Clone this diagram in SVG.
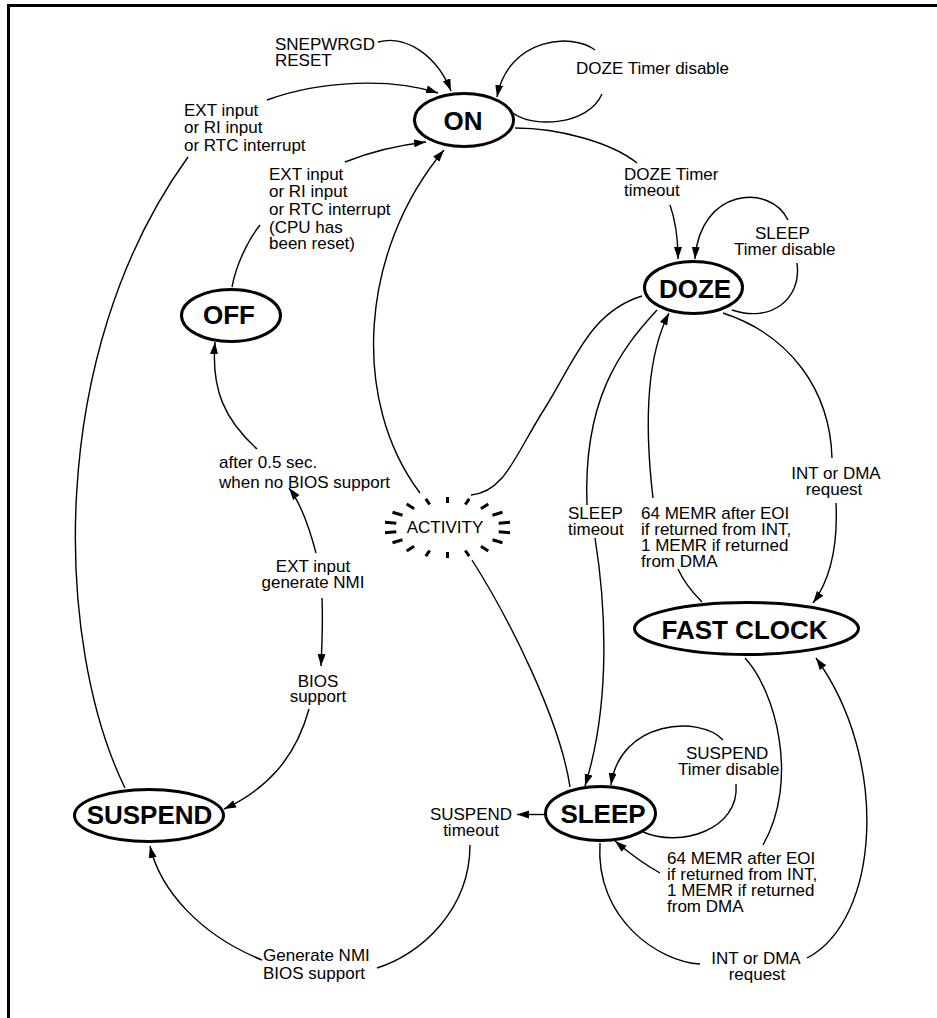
<svg xmlns="http://www.w3.org/2000/svg" width="937" height="1018" viewBox="0 0 937 1018">
<defs>
<marker id="arr" markerUnits="userSpaceOnUse" markerWidth="14" markerHeight="10" refX="12" refY="4" orient="auto">
<path d="M0,0 L12,4 L0,8 Z" fill="#000"/>
</marker>
<style>
.node ellipse{fill:#fff;stroke:#000;stroke-width:3}
.node text{font-family:"Liberation Sans",Arial,sans-serif;font-weight:bold;font-size:26px;text-anchor:middle;fill:#000}
.lbl{font-family:"Liberation Sans",Arial,sans-serif;font-size:17px;fill:#000}
.mid{text-anchor:middle}
.c{fill:none;stroke:#000;stroke-width:1.4}
.a{marker-end:url(#arr)}
.burst{fill:none;stroke:#000;stroke-width:3}
</style>
</defs>
<rect width="937" height="1018" fill="#fff"/>
<path d="M8.5,1018 V5.5 H937" fill="none" stroke="#000" stroke-width="3"/>

<g id="connectors">
<!-- SNEPWRGD RESET -> ON -->
<path class="c a" d="M378,42 C408,34 438,58 451,91"/>
<!-- ON self loop -->
<path class="c" d="M513,113 C532,128 588,126 602,94"/>
<path class="c a" d="M595,50 C572,32 508,38 497,97"/>
<!-- ON -> DOZE -->
<path class="c" d="M515,128 C560,128 612,143 637,163"/>
<path class="c a" d="M670,205 C676,222 678,240 678,259"/>
<!-- DOZE self loop -->
<path class="c" d="M732,310 C770,323 802,300 797,263"/>
<path class="c a" d="M788,220 C770,183 700,188 695,259"/>
<!-- SUSPEND -> ON (EXT/RI/RTC) -->
<path class="c" d="M125,788 C55,645 45,355 188,157"/>
<path class="c a" d="M267,100 C322,80 392,78 438,93"/>
<!-- OFF -> ON -->
<path class="c" d="M232,287 C236,265 248,240 260,225"/>
<path class="c a" d="M345,162 C370,152 400,145 426,142"/>
<!-- ACTIVITY -> ON -->
<path class="c a" d="M420,493 C350,400 360,250 444,150"/>
<!-- DOZE -> ACTIVITY -->
<path class="c" d="M471,495 C505,492 515,455 545,408 C575,360 590,312 642,296"/>
<!-- SLEEP -> ACTIVITY -->
<path class="c" d="M472,560 C510,620 560,720 570,787"/>
<!-- DOZE -> SLEEP -->
<path class="c" d="M657,310 C620,350 583,400 587,505"/>
<path class="c a" d="M595,538 C605,600 612,700 585,786"/>
<!-- FAST CLOCK -> DOZE -->
<path class="c" d="M702,602 C692,592 683,580 678,569"/>
<path class="c a" d="M653,498 C645,430 645,360 669,313"/>
<!-- DOZE -> FAST CLOCK -->
<path class="c" d="M723,313 C790,335 830,390 832,458"/>
<path class="c a" d="M836,503 C838,545 830,580 813,603"/>
<!-- FAST CLOCK -> SLEEP -->
<path class="c" d="M745,658 C775,690 800,780 763,845"/>
<path class="c a" d="M660,873 C640,862 628,852 615,841"/>
<!-- SLEEP -> FAST CLOCK -->
<path class="c" d="M600,843 C595,920 660,962 700,964"/>
<path class="c a" d="M807,958 C880,920 890,760 816,658"/>
<!-- SLEEP self loop -->
<path class="c" d="M643,832 C680,848 740,830 736,784"/>
<path class="c a" d="M723,740 C700,715 620,720 611,785"/>
<!-- SLEEP -> SUSPEND timeout -->
<path class="c a" d="M544,814.5 L517,814.5"/>
<!-- SUSPEND timeout -> SUSPEND -->
<path class="c" d="M470,845 C470,910 420,955 377,968"/>
<path class="c a" d="M262,960 C200,935 160,890 150,846"/>
<!-- EXT input generate NMI -->
<path class="c a" d="M316,553 C310,530 302,505 289,488"/>
<path class="c a" d="M322,598 C323,620 322,645 321,666"/>
<!-- after 0.5 sec -> OFF -->
<path class="c a" d="M257,449 C225,420 211,390 215,342"/>
<!-- BIOS support -> SUSPEND -->
<path class="c a" d="M309,709 C295,760 265,790 224,809"/>
</g>

<g id="node-on" class="node"><ellipse cx="464" cy="120" rx="49.5" ry="26.5"/><text x="463" y="130">ON</text></g>
<g id="node-doze" class="node"><ellipse cx="693.5" cy="287.5" rx="49" ry="26"/><text x="695" y="298">DOZE</text></g>
<g id="node-off" class="node"><ellipse cx="231" cy="315.5" rx="49.5" ry="26"/><text x="229" y="323.5">OFF</text></g>
<g id="node-fastclock" class="node"><ellipse cx="746.5" cy="628.5" rx="112" ry="26"/><text x="744.5" y="638.5">FAST CLOCK</text></g>
<g id="node-suspend" class="node"><ellipse cx="149" cy="815.5" rx="74.5" ry="26"/><text x="149.5" y="824">SUSPEND</text></g>
<g id="node-sleep" class="node"><ellipse cx="600.5" cy="813.5" rx="55" ry="27"/><text x="603" y="822.5">SLEEP</text></g>

<g id="node-activity">
<path class="burst" d="M447.5,503 V497 M465.3,504.5 L469.2,498.8 M480.9,508.7 L488.3,504.1 M492.5,515.3 L502.5,512.3 M498.7,523.2 L510,522.2 M498.7,531.8 L510,532.8 M492.5,539.7 L502.5,542.7 M480.9,546.3 L488.3,550.9 M465.3,550.5 L469.2,556.2 M447.5,552 V558 M429.7,550.5 L425.8,556.2 M414.1,546.3 L406.7,550.9 M402.5,539.7 L392.5,542.7 M396.3,531.8 L385,532.8 M396.3,523.2 L385,522.2 M402.5,515.3 L392.5,512.3 M414.1,508.7 L406.7,504.1 M429.7,504.5 L425.8,498.8"/>
<text class="lbl mid" x="445" y="533">ACTIVITY</text>
</g>

<g id="labels">
<text class="lbl" x="275" y="50">SNEPWRGD</text>
<text class="lbl" x="275" y="66">RESET</text>
<text class="lbl" x="576" y="74">DOZE Timer disable</text>
<text class="lbl" x="184" y="116">EXT input</text>
<text class="lbl" x="184" y="132.5">or RI input</text>
<text class="lbl" x="184" y="150.5">or RTC interrupt</text>
<text class="lbl" x="269" y="180">EXT input</text>
<text class="lbl" x="269" y="196.5">or RI input</text>
<text class="lbl" x="269" y="215">or RTC interrupt</text>
<text class="lbl" x="269" y="233">(CPU has</text>
<text class="lbl" x="269" y="249">been reset)</text>
<text class="lbl" x="624" y="180">DOZE Timer</text>
<text class="lbl" x="624" y="196">timeout</text>
<text class="lbl" x="755" y="239">SLEEP</text>
<text class="lbl" x="734" y="255">Timer disable</text>
<text class="lbl" x="219" y="468">after 0.5 sec.</text>
<text class="lbl" x="219" y="487.5">when no BIOS support</text>
<text class="lbl mid" x="313" y="572">EXT input</text>
<text class="lbl mid" x="313" y="588">generate NMI</text>
<text class="lbl" x="568" y="518.5">SLEEP</text>
<text class="lbl" x="568" y="534.5">timeout</text>
<text class="lbl" x="641" y="519">64 MEMR after EOI</text>
<text class="lbl" x="641" y="535">if returned from INT,</text>
<text class="lbl" x="641" y="551">1 MEMR if returned</text>
<text class="lbl" x="641" y="567">from DMA</text>
<text class="lbl mid" x="836" y="479">INT or DMA</text>
<text class="lbl mid" x="834" y="495">request</text>
<text class="lbl mid" x="318" y="687">BIOS</text>
<text class="lbl mid" x="318" y="702">support</text>
<text class="lbl mid" x="471" y="820">SUSPEND</text>
<text class="lbl mid" x="471" y="836">timeout</text>
<text class="lbl" x="686" y="759">SUSPEND</text>
<text class="lbl" x="678" y="775">Timer disable</text>
<text class="lbl" x="667" y="864">64 MEMR after EOI</text>
<text class="lbl" x="667" y="880">if returned from INT,</text>
<text class="lbl" x="667" y="896">1 MEMR if returned</text>
<text class="lbl" x="667" y="912">from DMA</text>
<text class="lbl mid" x="756" y="964">INT or DMA</text>
<text class="lbl mid" x="757" y="979.5">request</text>
<text class="lbl" x="263" y="961">Generate NMI</text>
<text class="lbl" x="263" y="979">BIOS support</text>
</g>
</svg>
